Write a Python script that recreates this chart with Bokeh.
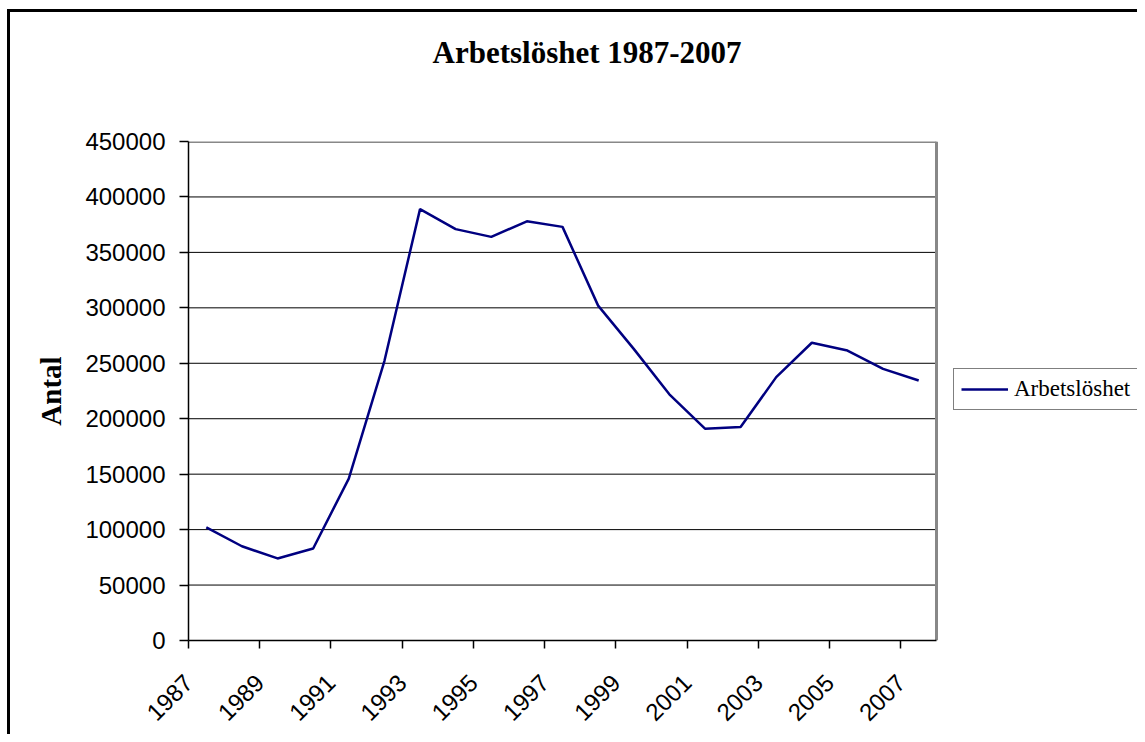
from math import pi
from bokeh.plotting import figure
from bokeh.models import Range1d, FixedTicker, BasicTickFormatter, Title
from bokeh.embed import file_html
from bokeh.resources import INLINE

years = [1987, 1988, 1989, 1990, 1991, 1992, 1993, 1994, 1995, 1996, 1997,
         1998, 1999, 2000, 2001, 2002, 2003, 2004, 2005, 2006, 2007]
arbetsloshet = [102000, 85000, 74000, 83000, 146000, 252000, 389000, 371000, 364000, 378000, 373000,
                302000, 263000, 222000, 191000, 192500, 237500, 268500, 261500, 245000, 234500]
y_ticks = [0, 50000, 100000, 150000, 200000, 250000, 300000, 350000, 400000, 450000]
title_text = "Arbetslöshet 1987-2007"
y_label = "Antal"
series_name = "Arbetslöshet"

W, H = 1137, 734
LEFT, TOP, PLOT_W, PLOT_H = 188, 141, 748, 499

n = len(years)
xs = [i + 0.5 for i in range(n)]
x_tick_pos = [i for i in range(0, n, 2)]
x_tick_labels = {i: str(years[i]) for i in x_tick_pos}
y_max = y_ticks[-1]
# frame reaches the right edge of the canvas so the legend can sit beside the plot area
x_end = n * (W - LEFT) / PLOT_W

p = figure(width=W, height=H, output_backend="svg", toolbar_location=None,
           x_range=Range1d(0, x_end), y_range=Range1d(0, y_max),
           min_border_left=LEFT, min_border_right=0, min_border_top=TOP,
           min_border_bottom=H - TOP - PLOT_H)
p.background_fill_color = "white"
p.border_fill_color = "white"
p.border_fill_alpha = 0
p.outline_line_color = None
# outer chart border: only its left and top edges fall inside the picture
p.styles = {"box-shadow": "inset 7px 9px 0 0 white, inset 10px 12px 0 0 black",
            "background-color": "white"}

# grid lines limited to the plot area
grid_vals = y_ticks[1:-1]
p.segment(x0=[0] * len(grid_vals), y0=grid_vals, x1=[n] * len(grid_vals), y1=grid_vals,
          line_color="black", line_width=1)
# plot-area border (top and right, grey)
p.segment(x0=[0, n], y0=[y_max, 0], x1=[n, n], y1=[y_max, y_max],
          line_color="#888888", line_width=3)

p.line(xs, arbetsloshet, line_color="#000080", line_width=2.5, legend_label=series_name)

# title (with an empty spacer between it and the plot area)
p.title = None
spacer = Title(text=" ", text_font_size="1px", standoff=64)
main_title = Title(text=title_text, text_font="Liberation Serif", text_font_style="bold",
                   text_font_size="31px", text_color="black", align="left", offset=244,
                   standoff=10)
p.add_layout(spacer, "above")
p.add_layout(main_title, "above")

p.xgrid.grid_line_color = None
p.ygrid.grid_line_color = None

# y axis
ya = p.yaxis[0]
ya.ticker = FixedTicker(ticks=y_ticks)
ya.formatter = BasicTickFormatter(use_scientific=False)
ya.major_label_text_font = "Liberation Sans"
ya.major_label_text_font_size = "24px"
ya.major_label_text_color = "black"
ya.major_tick_out = 9
ya.major_tick_in = 0
ya.minor_tick_line_color = None
ya.major_label_standoff = 14
ya.axis_line_color = "black"
ya.axis_line_width = 1.5
ya.major_tick_line_color = "black"
ya.major_tick_line_width = 1.5
ya.axis_label = y_label
ya.axis_label_text_font = "Liberation Serif"
ya.axis_label_text_font_style = "bold"
ya.axis_label_text_font_size = "29px"
ya.axis_label_text_color = "black"
ya.axis_label_standoff = 15

# x axis
xa = p.xaxis[0]
xa.bounds = (0, n)
xa.ticker = FixedTicker(ticks=x_tick_pos)
xa.major_label_overrides = x_tick_labels
xa.major_label_orientation = pi / 4
xa.major_label_text_font = "Liberation Sans"
xa.major_label_text_font_size = "24px"
xa.major_label_text_color = "black"
xa.major_tick_out = 8
xa.major_tick_in = 0
xa.minor_tick_line_color = None
xa.major_label_standoff = 30
xa.axis_line_color = "black"
xa.axis_line_width = 1.5
xa.major_tick_line_color = "black"
xa.major_tick_line_width = 1.5

# legend beside the plot area
lg = p.legend[0]
lg.location = (765, 230)
lg.label_text_font = "Liberation Serif"
lg.label_text_font_size = "23px"
lg.label_text_color = "black"
lg.glyph_width = 47
lg.glyph_height = 24
lg.label_height = 24
lg.label_standoff = 6
lg.padding = 7
lg.margin = 0
lg.border_line_color = "black"
lg.border_line_width = 1.5
lg.background_fill_color = "white"
lg.background_fill_alpha = 1

open("out.html", "w").write(file_html(p, INLINE))
